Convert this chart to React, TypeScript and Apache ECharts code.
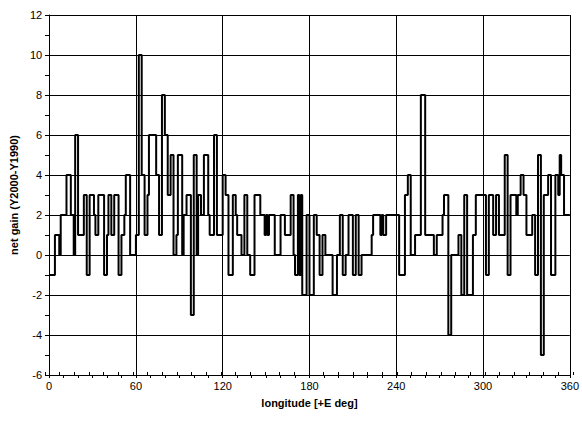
import React, { useEffect, useRef } from "react";
import * as echarts from "echarts";

// Step starts (deg E) and net gain values for each step
const longitudes = [
  0, 4, 7, 8, 12, 15, 17, 18, 20, 24,
  26, 28, 31, 32, 34, 38, 40, 41, 43, 45,
  48, 50, 52, 53, 56, 60, 62, 64, 66, 68,
  69, 74, 76, 78, 80, 82, 84, 86, 88, 89,
  92, 93, 95, 98, 100, 102, 103, 105, 107, 110,
  111, 114, 116, 120, 122, 124, 127, 129, 130, 133,
  135, 137, 139, 142, 146, 149, 150, 151, 152, 156,
  160, 163, 167, 169, 170, 172, 173, 174, 175, 178,
  180, 183, 185, 187, 189, 191, 196, 199, 201, 203,
  205, 207, 210, 212, 214, 216, 223, 224, 229, 230,
  231, 233, 242, 246, 248, 250, 253, 257, 260, 266,
  268, 272, 273, 276, 278, 283, 285, 287, 289, 293,
  295, 302, 304, 307, 309, 311, 315, 317, 319, 323,
  324, 326, 328, 330, 334, 336, 338, 340, 342, 345,
  347, 350, 352, 353, 354, 356, 360,
];
const gains = [
  -1, 1, 0, 2, 4, 2, 0, 6, 1, 3,
  -1, 3, 2, 1, 3, -1, 1, 3, 1, 3,
  -1, 1, 2, 4, 0, 1, 10, 4, 1, 3,
  6, 4, 1, 8, 6, 3, 5, 0, 1, 5,
  0, 2, 3, -3, 5, 0, 3, 2, 5, 2,
  1, 6, 1, 4, 3, -1, 3, 2, 1, 0,
  3, 0, -1, 3, 2, 1, 2, 1, 2, 0,
  2, 1, 3, 0, -1, 3, -1, 3, -2, 2,
  -2, 2, 1, -1, 1, 0, -2, 0, 2, -1,
  0, 2, -1, 2, -1, 0, 1, 2, 1, 2,
  1, 2, -1, 3, 4, 0, 1, 8, 1, 0,
  1, 2, 3, -4, 0, 1, -2, 3, -2, 1,
  3, -1, 3, 1, 3, 1, 5, -1, 3, 2,
  3, 4, 3, 1, 2, -1, 5, -5, 3, 4,
  -1, 4, 3, 5, 4, 2, 2,
];

const X_MIN = 0;
const X_MAX = 360;
const X_STEP = 60;
const Y_MIN = -6;
const Y_MAX = 12;
const Y_STEP = 2;

const xTitle = "longitude [+E deg]";
const yTitle = "net gain (Y2000-Y1990)";

export default function App() {
  const ref = useRef<HTMLDivElement>(null);

  useEffect(() => {
    if (!ref.current) return;
    const chart = echarts.init(ref.current, null, { renderer: "svg" });
    const font = "'Liberation Sans', Arial, sans-serif";
    const gridRect = { left: 45, right: 9, top: 15, bottom: 46 };
    const data = longitudes.map((lon, i) => [lon, gains[i]]);

    const baseX = {
      type: "value" as const,
      min: X_MIN,
      max: X_MAX,
      interval: X_STEP,
    };
    const baseY = {
      type: "value" as const,
      min: Y_MIN,
      max: Y_MAX,
      interval: Y_STEP,
    };

    chart.setOption({
      animation: false,
      backgroundColor: "#fff",
      grid: [
        { ...gridRect, containLabel: false },
        { ...gridRect, containLabel: false },
      ],
      xAxis: [
        {
          ...baseX,
          gridIndex: 0,
          position: "bottom",
          name: xTitle,
          nameLocation: "middle",
          nameGap: 22,
          nameTextStyle: { fontFamily: font, fontSize: 11, fontWeight: "bold", color: "#000" },
          axisLine: { show: true, onZero: false, lineStyle: { color: "#000", width: 1 } },
          axisTick: { show: true, length: 3, lineStyle: { color: "#000" } },
          minorTick: { show: true, splitNumber: 6, length: 3, lineStyle: { color: "#000" } },
          axisLabel: { fontFamily: font, fontSize: 11, color: "#000", margin: 5 },
          splitLine: { show: true, lineStyle: { color: "#000", width: 1 } },
        },
        {
          ...baseX,
          gridIndex: 1,
          position: "bottom",
          axisLine: { show: false, onZero: false },
          axisTick: { show: true, inside: true, length: 3, lineStyle: { color: "#000" } },
          minorTick: { show: true, splitNumber: 6, length: 3, lineStyle: { color: "#000" } },
          axisLabel: { show: false },
          splitLine: { show: false },
        },
      ],
      yAxis: [
        {
          ...baseY,
          gridIndex: 0,
          position: "left",
          name: yTitle,
          nameLocation: "middle",
          nameGap: 26,
          nameTextStyle: { fontFamily: font, fontSize: 11, fontWeight: "bold", color: "#000" },
          axisLine: { show: true, onZero: false, lineStyle: { color: "#000", width: 1 } },
          axisTick: { show: true, length: 3, lineStyle: { color: "#000" } },
          minorTick: { show: true, splitNumber: 2, length: 3, lineStyle: { color: "#000" } },
          axisLabel: { fontFamily: font, fontSize: 11, color: "#000", margin: 7 },
          splitLine: { show: true, lineStyle: { color: "#000", width: 1 } },
        },
        {
          ...baseY,
          gridIndex: 1,
          position: "left",
          axisLine: { show: false, onZero: false },
          axisTick: { show: true, inside: true, length: 3, lineStyle: { color: "#000" } },
          minorTick: { show: true, splitNumber: 2, length: 3, lineStyle: { color: "#000" } },
          axisLabel: { show: false },
          splitLine: { show: false },
        },
      ],
      series: [
        {
          type: "line",
          xAxisIndex: 0,
          yAxisIndex: 0,
          step: "end",
          data,
          symbol: "none",
          lineStyle: { color: "#000", width: 2 },
          silent: true,
        },
      ],
    });

    return () => chart.dispose();
  }, []);

  return (
    <div
      ref={ref}
      style={{ position: "fixed", left: 0, top: 0, width: 582, height: 421, background: "#fff" }}
    />
  );
}
